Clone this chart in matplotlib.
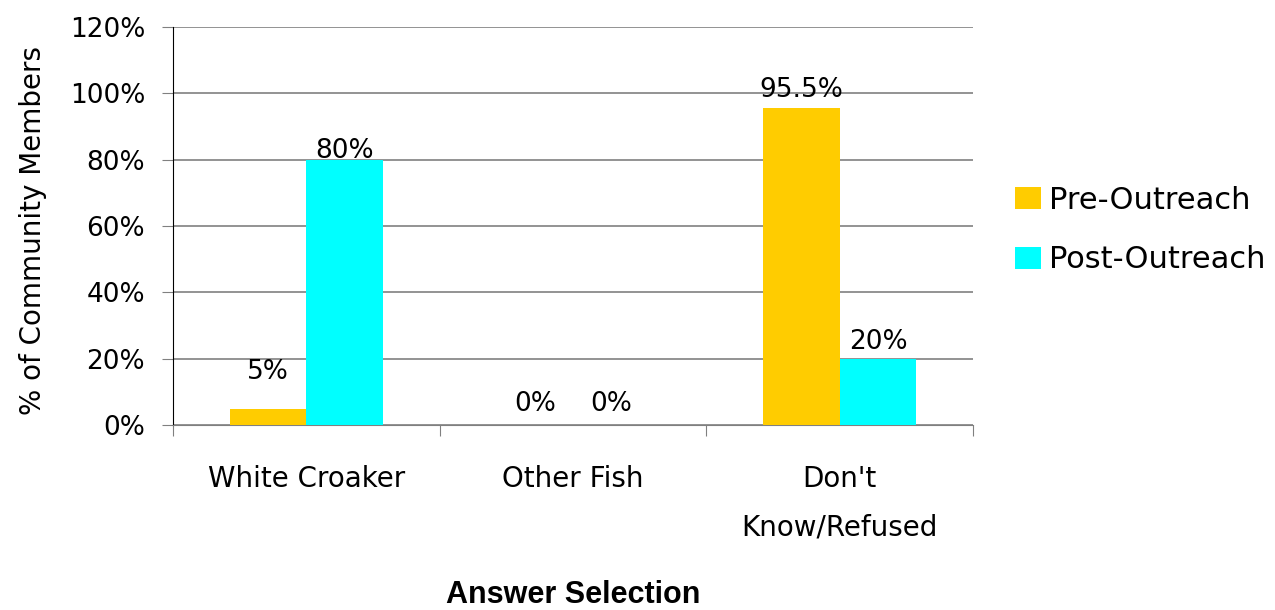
import numpy as np
import matplotlib.pyplot as plt
from matplotlib.ticker import PercentFormatter

categories = ["White Croaker", "Other Fish", "Don't\nKnow/Refused"]
pre_outreach = [5, 0, 95.5]
post_outreach = [80, 0, 20]
pre_labels = ["5%", "0%", "95.5%"]
post_labels = ["80%", "0%", "20%"]

plt.rcParams['font.family'] = ['DejaVu Sans']

fig = plt.figure(figsize=(12.75, 6.1), dpi=100)
ax = fig.add_axes([0.1357, 0.303, 0.6275, 0.6527])

x = np.arange(len(categories))
w = 0.287
ax.bar(x - w / 2, pre_outreach, w, color='#FFCC00', label='Pre-Outreach', zorder=3)
ax.bar(x + w / 2, post_outreach, w, color='#00FFFF', label='Post-Outreach', zorder=3)

# value labels, offsets roughly as placed in the original
pre_off = [21, 10, 8]
post_off = [1, 10, 7]
for i in range(len(categories)):
    ax.annotate(pre_labels[i], (x[i] - w / 2, pre_outreach[i]), xytext=(0, pre_off[i]),
                textcoords='offset points', ha='center', va='baseline', fontsize=19,
                zorder=4)
    ax.annotate(post_labels[i], (x[i] + w / 2, post_outreach[i]), xytext=(0, post_off[i]),
                textcoords='offset points', ha='center', va='baseline', fontsize=19,
                zorder=4)

ax.set_xlim(-0.5, 2.5)
ax.set_ylim(0, 120)
ax.set_yticks(np.arange(0, 121, 20))
ax.yaxis.set_major_formatter(PercentFormatter(decimals=0))
ax.set_xticks([-0.5, 0.5, 1.5, 2.5])
ax.set_xticklabels([])
ax.set_xticks(x, minor=True)
ax.set_xticklabels(categories, minor=True, fontsize=20, linespacing=1.9)
ax.tick_params(axis='x', which='minor', length=0, pad=29)
ax.tick_params(axis='x', which='major', length=8, direction='out', color='#808080')
ax.tick_params(axis='y', length=8, labelsize=19, pad=12, color='#808080')

ax.grid(axis='y', color='#808080', linewidth=1.2, zorder=0)
for s in ['top', 'right']:
    ax.spines[s].set_visible(False)
ax.spines['bottom'].set_color('#808080')

ax.set_ylabel('% of Community Members', fontsize=20)
ax.yaxis.set_label_coords(-0.158, 0.49)
ax.set_xlabel('Answer Selection', fontsize=22, fontweight='bold',
              family='Liberation Sans')
ax.xaxis.set_label_coords(0.5, -0.39)

ax.legend(loc='center left', bbox_to_anchor=(1.053, 0.49), frameon=False,
          fontsize=22, handlelength=0.82, handleheight=0.72, labelspacing=1.0,
          handletextpad=0.28, borderaxespad=0, borderpad=0)

fig.savefig('out.png', dpi=100)
